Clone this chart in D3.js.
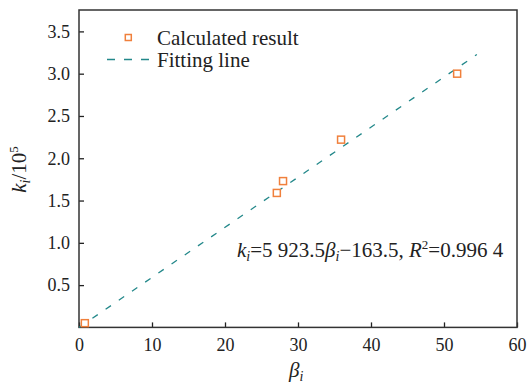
<!DOCTYPE html>
<html><head><meta charset="utf-8">
<script src="https://cdn.jsdelivr.net/npm/d3@7"></script>
<style>body{margin:0;background:#fff}svg{display:block}</style>
</head><body><svg id="c" width="527" height="387"></svg>
<script>
const betaValues = [0.8, 27.1, 27.95, 35.9, 51.8];
const kValues = [0.05, 1.59, 1.73, 2.22, 3.0];
const fitBeta = [0.03, 54.5];
const fitSlope = 5923.5, fitIntercept = -163.5;
const xTicks = [0, 10, 20, 30, 40, 50, 60];
const yTicks = [0.5, 1.0, 1.5, 2.0, 2.5, 3.0, 3.5];

const FONT = "'Liberation Serif','Times New Roman',serif";
const svg = d3.select("#c");
const m = {l:79, r:517, t:10, b:327.4};
const x = d3.scaleLinear().domain([0,60]).range([m.l,m.r]);
const y = d3.scaleLinear().domain([0,3.753]).range([m.b,m.t]);

const gx = svg.append("g").attr("transform",`translate(0,${m.b})`)
  .call(d3.axisBottom(x).tickValues(xTicks).tickSize(-5).tickPadding(10).tickFormat(d3.format("d")));
gx.selectAll("text").attr("dy","0.71em").attr("y",11).style("font-family",FONT).style("font-size","18px").attr("fill","#222");
const gy = svg.append("g").attr("transform",`translate(${m.l},0)`)
  .call(d3.axisLeft(y).tickValues(yTicks).tickSize(-5).tickPadding(10).tickFormat(d3.format(".1f")));
gy.selectAll("text").attr("x",-9).style("font-family",FONT).style("font-size","18px").attr("fill","#222");
svg.selectAll(".domain").remove();
svg.selectAll(".tick line").attr("stroke","#222").attr("stroke-width",1.3);

// frame
svg.append("rect").attr("x",m.l).attr("y",m.t).attr("width",m.r-m.l).attr("height",m.b-m.t)
  .attr("fill","none").attr("stroke","#333").attr("stroke-width",1.5);

// fit line
const fit = b => (fitSlope*b + fitIntercept)/1e5;
svg.append("path").datum(fitBeta)
  .attr("d", d3.line().x(d=>x(d)).y(d=>y(fit(d))))
  .attr("fill","none").attr("stroke","#23888a").attr("stroke-width",1.3).attr("stroke-dasharray","6.5,9.5");

// points
const s = 7;
svg.selectAll("rect.pt").data(betaValues).join("rect").attr("class","pt")
  .attr("x",(d)=>x(d)-s/2).attr("y",(d,i)=>y(kValues[i])-s/2).attr("width",s).attr("height",s)
  .attr("fill","#fff").attr("stroke","#f0803c").attr("stroke-width",1.5);

function T(xp, yp){ return svg.append("text").attr("x",xp).attr("y",yp).attr("fill","#222")
  .style("font-family",FONT).style("font-size","21px"); }

// legend
svg.append("rect").attr("x",128.3-3).attr("y",37.5-3).attr("width",6).attr("height",6)
  .attr("fill","#fff").attr("stroke","#f0803c").attr("stroke-width",1.5);
T(157,44.5).text("Calculated result");
svg.append("line").attr("x1",107).attr("x2",150).attr("y1",59.5).attr("y2",59.5)
  .attr("stroke","#23888a").attr("stroke-width",1.3).attr("stroke-dasharray","8,9");
T(157,66.5).text("Fitting line");

// equation
const eq = T(237,257);
eq.append("tspan").attr("font-style","italic").text("k");
eq.append("tspan").attr("font-style","italic").style("font-size","14px").attr("dy",4).text("i");
eq.append("tspan").attr("dy",-4).text("=5 923.5");
eq.append("tspan").attr("font-style","italic").text("β");
eq.append("tspan").attr("font-style","italic").style("font-size","14px").attr("dy",4).text("i");
eq.append("tspan").attr("dy",-4).text("−163.5, ");
eq.append("tspan").attr("font-style","italic").text("R");
eq.append("tspan").style("font-size","13px").attr("dy",-8).text("2");
eq.append("tspan").attr("dy",8).text("=0.996 4");

// x title
const xt = T(289,377);
xt.append("tspan").attr("font-style","italic").text("β");
xt.append("tspan").attr("font-style","italic").style("font-size","14px").attr("dy",4).text("i");

// y title
const yt = T(0,0).attr("transform","translate(26,169.5) rotate(-90)").attr("text-anchor","middle");
yt.append("tspan").attr("font-style","italic").text("k");
yt.append("tspan").attr("font-style","italic").style("font-size","14px").attr("dy",4).text("i");
yt.append("tspan").attr("dy",-4).text("/10");
yt.append("tspan").style("font-size","13px").attr("dy",-8).text("5");
</script></body></html>
